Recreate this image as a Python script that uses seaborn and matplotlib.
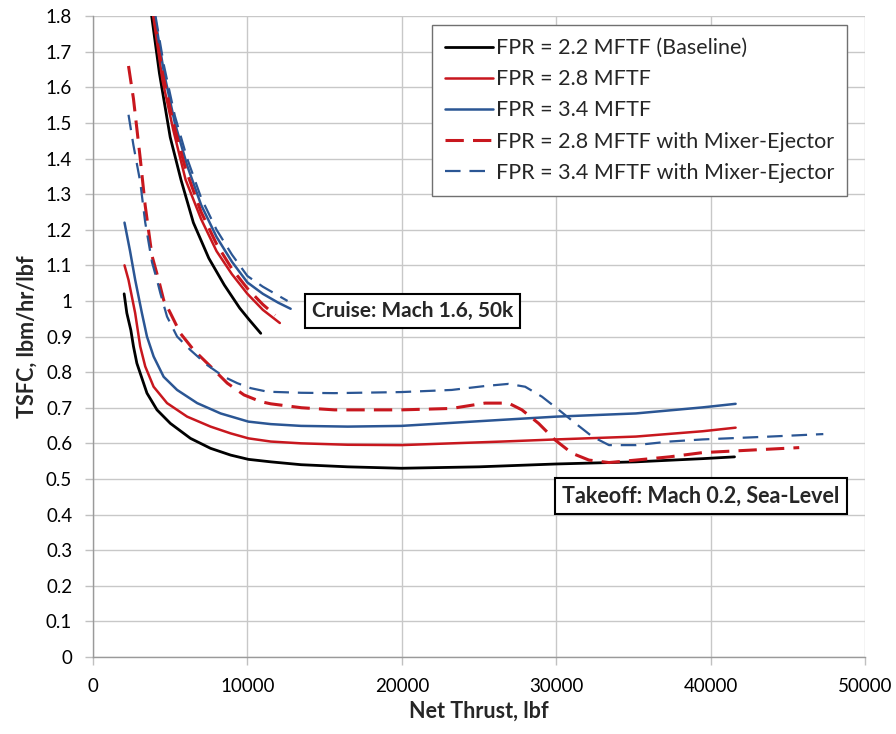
import matplotlib
matplotlib.use("Agg")
import matplotlib.pyplot as plt
from matplotlib.ticker import FuncFormatter, MultipleLocator
import seaborn as sns

# cruise: Mach 1.6, 50k
base_cr_x = [3800, 4300, 5000, 5700, 6500, 7500, 8500, 9500, 10100, 10865]
base_cr_y = [1.80, 1.64, 1.46, 1.34, 1.22, 1.12, 1.045, 0.98, 0.948, 0.909]
f28_cr_x = [3900, 4500, 5200, 6000, 7000, 8000, 9000, 10000, 11000, 12100]
f28_cr_y = [1.80, 1.62, 1.48, 1.34, 1.23, 1.14, 1.075, 1.02, 0.975, 0.938]
f34_cr_x = [4000, 4600, 5300, 6100, 7000, 8000, 9000, 10000, 11000, 12000, 12800]
f34_cr_y = [1.80, 1.64, 1.50, 1.38, 1.27, 1.18, 1.11, 1.052, 1.02, 0.995, 0.978]
f28me_cr_x = [3950, 4500, 5200, 6000, 7000, 8000, 9000, 10000, 11000, 11800]
f28me_cr_y = [1.80, 1.64, 1.50, 1.37, 1.25, 1.16, 1.09, 1.035, 0.99, 0.96]
f34me_cr_x = [4050, 4600, 5300, 6100, 7000, 8000, 9000, 10000, 11000, 12000, 12600]
f34me_cr_y = [1.80, 1.66, 1.52, 1.40, 1.29, 1.20, 1.13, 1.07, 1.04, 1.015, 1.00]

# takeoff: Mach 0.2, sea level
base_to_x = [2017, 2190, 2450, 2622, 2840, 3058, 3494, 4144, 5010, 6311, 7612, 8913,
             10065, 11516, 13470, 16500, 19970, 25000, 30000, 35160, 39490, 41550]
base_to_y = [1.020, 0.966, 0.918, 0.872, 0.825, 0.797, 0.741, 0.694, 0.656, 0.614, 0.586,
             0.567, 0.555, 0.548, 0.540, 0.534, 0.530, 0.534, 0.542, 0.548, 0.557, 0.562]
f28_to_x = [2040, 2300, 2730, 3058, 3383, 3925, 4795, 6096, 7612, 8913, 10065, 11516,
            13470, 16500, 19970, 26480, 30000, 35160, 39490, 41620]
f28_to_y = [1.10, 1.059, 0.966, 0.872, 0.816, 0.759, 0.713, 0.675, 0.647, 0.628, 0.614,
            0.605, 0.600, 0.596, 0.595, 0.605, 0.611, 0.619, 0.634, 0.644]
f34_to_x = [2040, 2400, 2733, 3166, 3494, 3925, 4574, 5446, 6747, 8263, 10065, 11516,
            13470, 16500, 19970, 26480, 30000, 35160, 39490, 41620]
f34_to_y = [1.22, 1.14, 1.059, 0.966, 0.900, 0.844, 0.787, 0.750, 0.713, 0.684, 0.661,
            0.654, 0.649, 0.647, 0.649, 0.666, 0.675, 0.684, 0.701, 0.711]
f28me_to_x = [2300, 2620, 3060, 3380, 3820, 4250, 4574, 5010, 5660, 6526, 7612, 8697,
              9779, 10865, 11516, 13500, 15640, 19970, 23230, 25390, 26910, 27780,
              28860, 29940, 31030, 32120, 33420, 35160, 37330, 39490, 45740]
f28me_to_y = [1.66, 1.568, 1.40, 1.268, 1.127, 1.059, 1.003, 0.966, 0.909, 0.862, 0.816,
              0.769, 0.736, 0.717, 0.711, 0.700, 0.694, 0.694, 0.698, 0.713, 0.713, 0.694,
              0.656, 0.609, 0.572, 0.553, 0.546, 0.553, 0.562, 0.574, 0.588]
f34me_to_x = [2300, 2620, 3060, 3380, 3820, 4144, 4360, 4795, 5446, 6311, 7395, 8480,
              9347, 10215, 11300, 13500, 15640, 19970, 23230, 25390, 26910, 27990,
              29080, 30170, 31250, 32340, 33420, 35160, 37330, 39490, 43830, 47300]
f34me_to_y = [1.523, 1.437, 1.334, 1.221, 1.109, 1.059, 1.022, 0.956, 0.900, 0.862, 0.820,
              0.787, 0.769, 0.755, 0.745, 0.742, 0.741, 0.744, 0.750, 0.761, 0.767, 0.759,
              0.731, 0.694, 0.656, 0.619, 0.595, 0.595, 0.605, 0.611, 0.619, 0.626]

labels = ["FPR = 2.2 MFTF (Baseline)", "FPR = 2.8 MFTF", "FPR = 3.4 MFTF",
          "FPR = 2.8 MFTF with Mixer-Ejector", "FPR = 3.4 MFTF with Mixer-Ejector"]

sns.set_theme(style="whitegrid")
plt.rcParams['font.family'] = ['Lato', 'DejaVu Sans']

RED = "#C8171E"
BLUE = "#2B5694"
estilos = [
    dict(color="black", lw=2.0),
    dict(color=RED, lw=1.8),
    dict(color=BLUE, lw=1.8),
    dict(color=RED, lw=2.2, dashes=(6, 3)),
    dict(color=BLUE, lw=1.6, dashes=(7, 4)),
]
curvas = [
    ((base_cr_x, base_cr_y), (base_to_x, base_to_y)),
    ((f28_cr_x, f28_cr_y), (f28_to_x, f28_to_y)),
    ((f34_cr_x, f34_cr_y), (f34_to_x, f34_to_y)),
    ((f28me_cr_x, f28me_cr_y), (f28me_to_x, f28me_to_y)),
    ((f34me_cr_x, f34me_cr_y), (f34me_to_x, f34me_to_y)),
]

fig = plt.figure(figsize=(8.96, 7.34), dpi=100)
ax = fig.add_axes([0.1038, 0.105, 0.8616, 0.873])

for lab, est, (cr, to) in zip(labels, estilos, curvas):
    st = dict(est)
    dashes = st.pop("dashes", None)
    for i, (xs, ys) in enumerate((cr, to)):
        sns.lineplot(x=xs, y=ys, sort=False, ax=ax, color=st["color"],
                     linewidth=st["lw"], label=lab if i == 0 else None)
        if dashes:
            ax.lines[-1].set_dashes(dashes)

ax.set_xlim(0, 50000)
ax.set_ylim(0, 1.8)
ax.xaxis.set_major_locator(MultipleLocator(10000))
ax.yaxis.set_major_locator(MultipleLocator(0.1))
ax.yaxis.set_major_formatter(FuncFormatter(lambda v, p: f"{v:g}"))
ax.grid(True, color="#c8c8c8", linewidth=1.0)
for s in ["top", "right"]:
    ax.spines[s].set_visible(False)
for s in ["left", "bottom"]:
    ax.spines[s].set_color("#9a9a9a")
    ax.spines[s].set_linewidth(1.0)
ax.tick_params(axis="both", labelsize=13.5, labelcolor="black", length=6, width=1,
               color="#c0c0c0", direction="out", left=True, bottom=True, pad=9)

ax.set_xlabel("Net Thrust, lbf", fontsize=15.5, fontweight="bold", labelpad=4)
ax.set_ylabel("TSFC, lbm/hr/lbf", fontsize=15.5, fontweight="bold", labelpad=6)

leg = ax.legend(loc="upper right", bbox_to_anchor=(0.977, 0.986), fontsize=15.5,
                frameon=True, fancybox=False, edgecolor="#707070", framealpha=1,
                handlelength=2.2, handletextpad=0.15, labelspacing=0.52,
                borderpad=0.6, borderaxespad=0)
leg.get_frame().set_linewidth(1.0)

caixa = dict(boxstyle="square,pad=0.33", facecolor="white", edgecolor="black", linewidth=1.5)
ax.text(20690, 0.972, "Cruise: Mach 1.6, 50k", fontsize=15, fontweight="bold",
        ha="center", va="center", bbox=caixa)
ax.text(39360, 0.452, "Takeoff: Mach 0.2, Sea-Level", fontsize=15.5, fontweight="bold",
        ha="center", va="center", bbox=caixa)

plt.savefig("out.png", dpi=100)
